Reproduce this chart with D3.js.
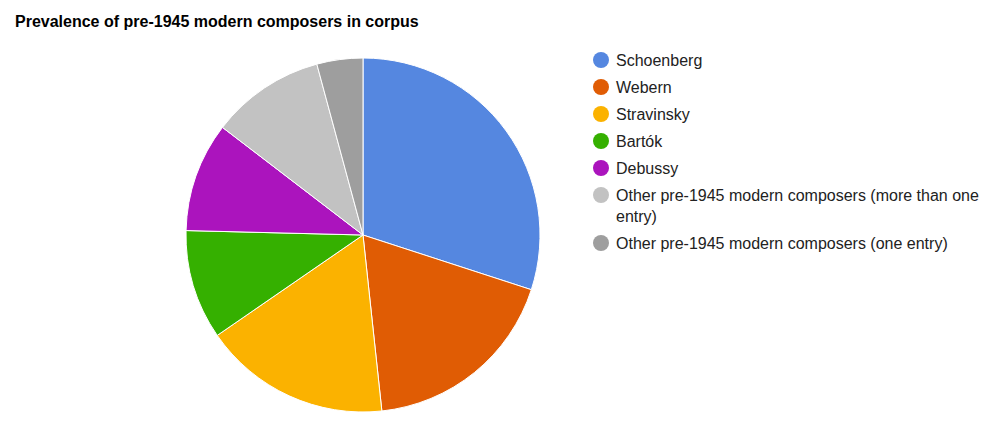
<!DOCTYPE html>
<html lang="en">
<head>
  <meta charset="UTF-8" />
  <title>Prevalence of pre-1945 modern composers in corpus</title>
  <script src="https://d3js.org/d3.v7.min.js"></script>
  <style>
    body { margin: 0; background: #fff; }
    svg { display: block; font-family: "Liberation Sans", Arial, Helvetica, sans-serif; }
  </style>
</head>
<body>
  <div id="chart"></div>

  <script>
    // Données (pourcentages)
    const composers = [
      "Schoenberg",
      "Webern",
      "Stravinsky",
      "Bartók",
      "Debussy",
      "Other pre-1945 modern composers (more than one entry)",
      "Other pre-1945 modern composers (one entry)"
    ];
    const shares = [30.0, 18.3, 17.1, 10.0, 10.0, 10.4, 4.2];
    const colors = ["#5587e0", "#e05c04", "#fbb200", "#35b000", "#ab14bd", "#c2c2c2", "#9e9e9e"];

    const width = 1000, height = 435;
    const cx = 363, cy = 235, radius = 177;

    const data = composers.map((name, i) => ({ name, value: shares[i], color: colors[i] }));

    const svg = d3.select("#chart")
      .append("svg")
      .attr("width", width)
      .attr("height", height);

    // Titre
    svg.append("text")
      .attr("x", 15)
      .attr("y", 27)
      .style("font-size", "16px")
      .style("font-weight", "bold")
      .style("fill", "#000")
      .text("Prevalence of pre-1945 modern composers in corpus");

    // Camembert
    const pie = d3.pie()
      .value(d => d.value)
      .sort(null);

    const arc = d3.arc()
      .innerRadius(0)
      .outerRadius(radius);

    svg.append("g")
      .attr("transform", `translate(${cx}, ${cy})`)
      .selectAll("path")
      .data(pie(data))
      .enter()
      .append("path")
      .attr("d", arc)
      .attr("fill", d => d.data.color)
      .attr("stroke", "#fff")
      .attr("stroke-width", 1);

    // Légende
    const legendX = 601, legendY = 60, rowH = 27, lineH = 21, maxW = 375;
    const legend = svg.append("g");
    let y = legendY;

    data.forEach(d => {
      legend.append("circle")
        .attr("cx", legendX)
        .attr("cy", y)
        .attr("r", 8)
        .attr("fill", d.color);

      const text = legend.append("text")
        .attr("x", legendX + 15)
        .attr("y", y)
        .attr("dy", "0.36em")
        .style("font-size", "16px")
        .style("fill", "#222");

      // retour à la ligne si le texte est trop long
      const words = d.name.split(" ");
      let line = [];
      let tspan = text.append("tspan").attr("x", legendX + 15);
      let lines = 1;
      words.forEach(w => {
        line.push(w);
        tspan.text(line.join(" "));
        if (tspan.node().getComputedTextLength() > maxW && line.length > 1) {
          line.pop();
          tspan.text(line.join(" "));
          line = [w];
          tspan = text.append("tspan")
            .attr("x", legendX + 15)
            .attr("dy", lineH)
            .text(w);
          lines++;
        }
      });

      y += rowH + (lines - 1) * lineH;
    });
  </script>
</body>
</html>
